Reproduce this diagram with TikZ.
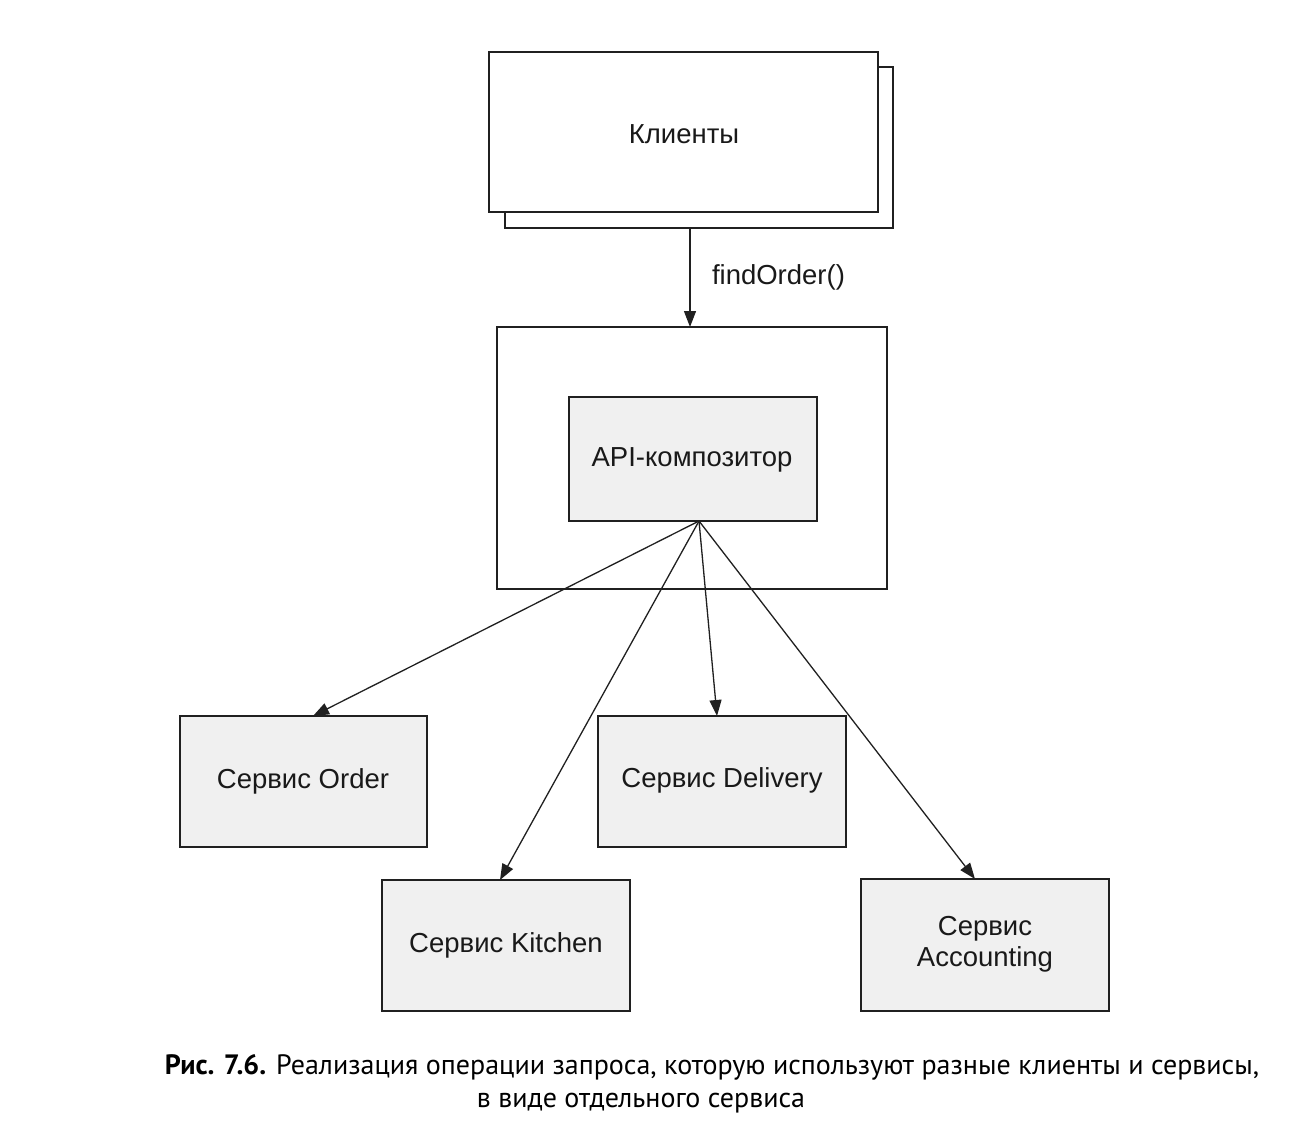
\documentclass[tikz,border=0pt]{standalone}
\usepackage{fontspec}
\setmainfont{Liberation Sans}
\newfontfamily\capfont{PT Sans}
\usetikzlibrary{arrows.meta}
\definecolor{boxgrey}{HTML}{F0F0F0}
\definecolor{linec}{HTML}{202020}
\tikzset{
  every node/.style={inner sep=0pt, outer sep=0pt},
  plain/.style={draw=linec, line width=1.7pt, fill=white},
  svc/.style={draw=linec, line width=1.7pt, fill=boxgrey},
  lbl/.style={font=\fontsize{27.5}{31}\selectfont, text=black!90, align=center},
  arr/.style={draw=linec, line width=1.3pt, -{Triangle[length=16pt,width=12pt]}},
}
\begin{document}
\begin{tikzpicture}[x=1pt,y=-1pt]
\useasboundingbox (0,0) rectangle (1302,1148);
% clients (stacked)
\draw[plain] (505,67) rectangle (893,228);
\node[plain, minimum width=389pt, minimum height=160pt, anchor=north west] (cli) at (489,52) {};
\node[lbl] (clit) at (684,134) {Клиенты};
\coordinate (clibot) at (690,228);
% composer container
\node[plain, minimum width=390pt, minimum height=262pt, anchor=north west] (outer) at (497,327) {};
\coordinate (outtop) at (690,327);
\node[svc, minimum width=248pt, minimum height=124pt, anchor=north west] (api) at (569,397) {};
\node[lbl] at (692,460) {API-композитор};
\coordinate (src) at (699,521);
% services
\node[svc, minimum width=247pt, minimum height=131pt, anchor=north west] (ord) at (180,716) {};
\node[lbl] at (303,781) {Сервис Order};
\node[svc, minimum width=248pt, minimum height=131pt, anchor=north west] (del) at (598,716) {};
\node[lbl] at (722,780) {Сервис Delivery};
\node[svc, minimum width=248pt, minimum height=131pt, anchor=north west] (kit) at (382,880) {};
\node[lbl] at (506,945) {Сервис Kitchen};
\node[svc, minimum width=248pt, minimum height=132pt, anchor=north west] (acc) at (861,879) {};
\node[lbl, font=\fontsize{27.5}{31}\selectfont] at (985,944) {Сервис\\Accounting};
% connectors
\draw[arr] (clibot) -- (outtop) node[midway, right=22pt, lbl, anchor=west] {findOrder()};
\draw[arr] (src) -- (ord.north -| 313,0);
\draw[arr] (src) -- (del.north -| 717,0);
\draw[arr] (src) -- (kit.north -| 500,0);
\draw[arr] (src) -- (acc.north -| 975,0);
% caption
\node[font=\capfont\fontsize{28}{32}\selectfont, anchor=center] (cap1) at (712,1067) {\textbf{Рис. 7.6.} Реализация операции запроса, которую используют разные клиенты и сервисы,};
\node[font=\capfont\fontsize{28}{32}\selectfont, anchor=center] (cap2) at (641,1103) {в виде отдельного сервиса};
\end{tikzpicture}
\end{document}
